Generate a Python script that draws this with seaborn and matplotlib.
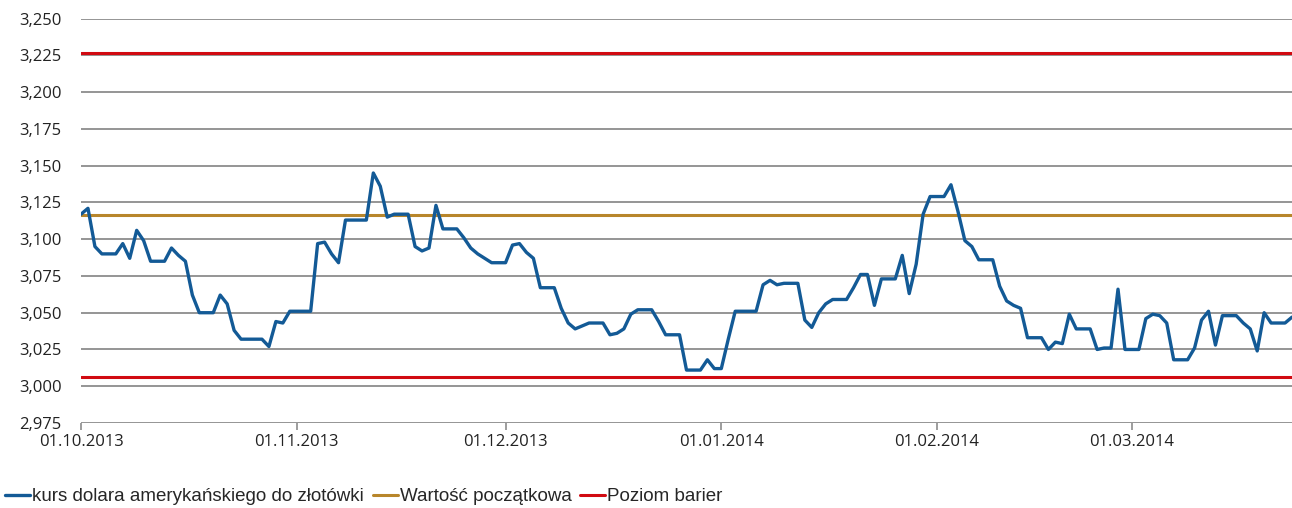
import seaborn as sns
import matplotlib
matplotlib.use('Agg')
import matplotlib.pyplot as plt
import matplotlib.dates as mdates
from matplotlib import font_manager as fm
from matplotlib.ticker import FuncFormatter
import pandas as pd

sns.set_theme(style="white")

# daily fixing USD/PLN, 01.10.2013 - 24.03.2014 (weekends repeat friday value)
start_date = '2013-10-01'
usd_pln = [
    3.117, 3.121, 3.095, 3.090, 3.090, 3.090, 3.097, 3.087, 3.106, 3.099,
    3.085, 3.085, 3.085, 3.094, 3.089, 3.085, 3.062, 3.050, 3.050, 3.050,
    3.062, 3.056, 3.038, 3.032, 3.032, 3.032, 3.032, 3.027, 3.044, 3.043,
    3.051, 3.051, 3.051, 3.051, 3.097, 3.098, 3.090, 3.084, 3.113, 3.113,
    3.113, 3.113, 3.145, 3.136, 3.115, 3.117, 3.117, 3.117, 3.095, 3.092,
    3.094, 3.123, 3.107, 3.107, 3.107, 3.101, 3.094, 3.090, 3.087, 3.084,
    3.084, 3.084, 3.096, 3.097, 3.091, 3.087, 3.067, 3.067, 3.067, 3.053,
    3.043, 3.039, 3.041, 3.043, 3.043, 3.043, 3.035, 3.036, 3.039, 3.049,
    3.052, 3.052, 3.052, 3.044, 3.035, 3.035, 3.035, 3.011, 3.011, 3.011,
    3.018, 3.012, 3.012, 3.032, 3.051, 3.051, 3.051, 3.051, 3.069, 3.072,
    3.069, 3.070, 3.070, 3.070, 3.045, 3.040, 3.050, 3.056, 3.059, 3.059,
    3.059, 3.067, 3.076, 3.076, 3.055, 3.073, 3.073, 3.073, 3.089, 3.063,
    3.083, 3.117, 3.129, 3.129, 3.129, 3.137, 3.119, 3.099, 3.095, 3.086,
    3.086, 3.086, 3.068, 3.058, 3.055, 3.053, 3.033, 3.033, 3.033, 3.025,
    3.030, 3.029, 3.049, 3.039, 3.039, 3.039, 3.025, 3.026, 3.026, 3.066,
    3.025, 3.025, 3.025, 3.046, 3.049, 3.048, 3.043, 3.018, 3.018, 3.018,
    3.026, 3.045, 3.051, 3.028, 3.048, 3.048, 3.048, 3.043, 3.039, 3.024,
    3.050, 3.043, 3.043, 3.043, 3.047,
]
start_value = 3.1166
barriers = [3.2266, 3.0066]
y_ticks = [2.975, 3.000, 3.025, 3.050, 3.075, 3.100, 3.125, 3.150,
           3.175, 3.200, 3.225, 3.250]
x_ticks = ['2013-10-01', '2013-11-01', '2013-12-01', '2014-01-01',
           '2014-02-01', '2014-03-01']
labels = ['kurs dolara amerykańskiego do złotówki', 'Wartość początkowa',
          'Poziom barier']

BLUE = '#135a96'
GOLD = '#b8862b'
RED = '#d10a11'
GRID = '#8c8c8c'

df = pd.DataFrame({'date': pd.date_range(start_date, periods=len(usd_pln)),
                   'value': usd_pln})

installed = {f.name for f in fm.fontManager.ttflist}
tick_font = 'Open Sans' if 'Open Sans' in installed else 'DejaVu Sans'
leg_font = 'Liberation Sans Narrow' if 'Liberation Sans Narrow' in installed else 'Liberation Sans'
plt.rcParams['font.family'] = [tick_font, 'DejaVu Sans']

fig = plt.figure(figsize=(12.92, 5.08), dpi=100)
ax = fig.add_axes([0.0627, 0.1673, 0.9373, 0.7961])

for y in y_ticks:
    ax.axhline(y, color=GRID, lw=1.3, zorder=1)

ax.axhline(start_value, color=GOLD, lw=2.2, zorder=2, label=labels[1])
for i, b in enumerate(barriers):
    ax.axhline(b, color=RED, lw=2.2, zorder=2, label=labels[2] if i == 0 else None)

sns.lineplot(data=df, x='date', y='value', ax=ax, color=BLUE, lw=2.4,
             zorder=3, label=labels[0])

ax.set_xlim(df['date'].iloc[0], df['date'].iloc[-1])
ax.set_ylim(y_ticks[0], y_ticks[-1])
ax.set_yticks(y_ticks)
ax.yaxis.set_major_formatter(FuncFormatter(lambda v, p: f'{v:.3f}'.replace('.', ',')))
ax.set_xticks(pd.to_datetime(x_ticks))
ax.xaxis.set_major_formatter(mdates.DateFormatter('%d.%m.%Y'))
ax.tick_params(axis='x', length=5, width=1.2, color=GRID, pad=3,
               labelsize=12, labelcolor='#222222', bottom=True)
ax.tick_params(axis='y', length=0, pad=14, labelsize=12, labelcolor='#222222')
ax.set_xlabel('')
ax.set_ylabel('')
for s in ax.spines.values():
    s.set_visible(False)
ax.grid(False)

handles, labs = ax.get_legend_handles_labels()
order = [labs.index(l) for l in labels]
ax.get_legend().remove()
fig.legend([handles[i] for i in order], [labs[i] for i in order],
           loc='center left', bbox_to_anchor=(0.004, 0.022), ncol=3,
           frameon=False, handlelength=1.35, handletextpad=0.1,
           columnspacing=0.45, borderaxespad=0.0, borderpad=0.0,
           prop={'family': [leg_font, 'DejaVu Sans'], 'size': 13.5})

fig.savefig('out.png', dpi=100)
